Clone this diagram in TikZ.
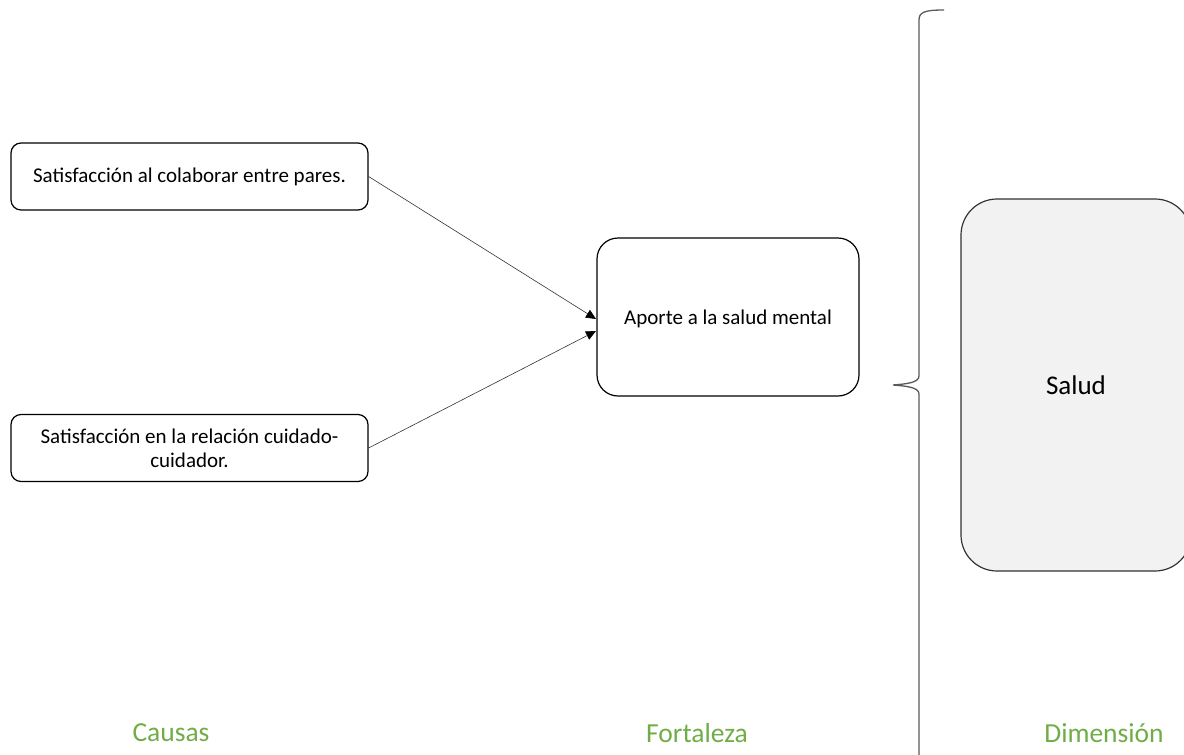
\documentclass[tikz,border=0pt]{standalone}
\usepackage{fontspec}
\setmainfont{Carlito}
\usetikzlibrary{arrows.meta}
\definecolor{labgreen}{HTML}{70AD47}
\definecolor{boxgray}{HTML}{F2F2F2}
\begin{document}
\begin{tikzpicture}[x=1pt,y=-1pt,
  causebox/.style={draw=black, line width=1.2pt, rounded corners=10pt, minimum width=357pt, minimum height=67pt, align=center, font=\fontsize{21}{24}\selectfont, inner sep=0pt},
  strbox/.style={draw=black, line width=1.2pt, rounded corners=21pt, minimum width=262pt, minimum height=158pt, align=center, font=\fontsize{21}{24}\selectfont, inner sep=0pt},
  dimbox/.style={draw=black!80, line width=1.2pt, fill=boxgray, rounded corners=36pt, minimum width=230pt, minimum height=372pt, align=center, font=\fontsize{27}{32}\selectfont, inner sep=0pt},
  collabel/.style={text=labgreen, font=\fontsize{27.5}{32}\selectfont, inner sep=0pt},
  link/.style={draw=black!80, line width=0.6pt, -{Triangle[length=10pt,width=9pt,color=black]}}
]
\useasboundingbox (0,0) rectangle (1184,755);

% cause boxes
\node[causebox] (c1) at (189.5,176.5) {Satisfacción al colaborar entre pares.};
\node[causebox] (c2) at (189.5,448) {Satisfacción en la relación cuidado-\\cuidador.};

% strength box
\node[strbox] (f) at (728,317) {};
\node[font=\fontsize{21}{24}\selectfont, inner sep=0pt] (ft) at (728,319) {Aporte a la salud mental};

% dimension box
\node[dimbox] (d) at (1076,385) {Salud};

% anchors where the arrows meet the strength box
\coordinate (fa) at (596,319);
\coordinate (fb) at (596,331);

\draw[link] (c1.east) -- (fa);
\draw[link] (c2.east) -- (fb);

% grouping brace
\draw[draw=black!65, line width=1.3pt]
  (944,10) .. controls (925,10) and (919,12) .. (919,20)
  -- (919,376) .. controls (919,383) and (905,384) .. (893,385)
  .. controls (905,386) and (919,387) .. (919,394)
  -- (919,760);

% column labels
\node[collabel] (lc) at (171,733) {Causas};
\node[collabel] (lf) at (697,733) {Fortaleza};
\node[collabel] (ld) at (1104,733) {Dimensión};
\end{tikzpicture}
\end{document}
